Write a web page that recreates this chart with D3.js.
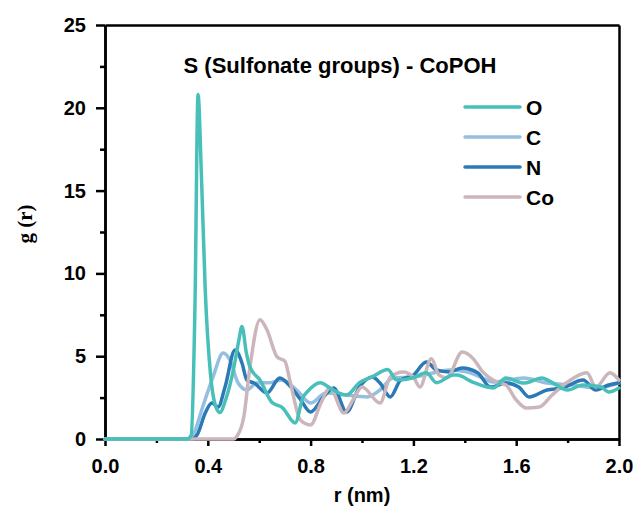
<!DOCTYPE html>
<html>
<head>
<meta charset="utf-8">
<script src="https://cdn.jsdelivr.net/npm/d3@7"></script>
<style>
  body { margin: 0; background: #fff; }
  text { font-family: "Liberation Sans", Arial, sans-serif; font-weight: bold; }
</style>
</head>
<body>
<div id="chart"></div>
<script>
// g(r) values, r in nm
var seriesNames = ['O', 'C', 'N', 'Co']
var seriesColors = ['#48c0b9', '#94bfe0', '#2b79b6', '#cbb7bb']

var oData = [[0, 0], [0.32, 0], [0.335, 0.2], [0.35, 8], [0.362, 20.8], [0.375, 16], [0.39, 9],
  [0.41, 4], [0.43, 2], [0.447, 1.6], [0.47, 2.4], [0.5, 4.2], [0.52, 5.9], [0.533, 6.8],
  [0.55, 5.2], [0.564, 4.35], [0.603, 3.56], [0.65, 2.2], [0.69, 1.9], [0.74, 0.97],
  [0.77, 2.5], [0.79, 2.9], [0.837, 3.4], [0.887, 2.96], [0.94, 2.65], [0.99, 3.4],
  [1.04, 3.75], [1.1, 4.2], [1.135, 3.56], [1.2, 3.7], [1.25, 4.0], [1.29, 3.4],
  [1.355, 3.86], [1.37, 3.86], [1.43, 3.44], [1.51, 3.08], [1.56, 3.68], [1.63, 3.38],
  [1.7, 3.68], [1.73, 3.5], [1.8, 2.96], [1.86, 3.26], [1.93, 3.14], [1.96, 2.84], [2.0, 3.08]]

var cData = [[0, 0], [0.33, 0], [0.345, 0.3], [0.38, 1.93], [0.42, 3.74], [0.46, 5.19],
  [0.486, 4.77], [0.518, 3.38], [0.552, 2.96], [0.59, 3.38], [0.64, 3.4], [0.69, 3.56],
  [0.745, 2.96], [0.8, 2.17], [0.86, 2.78], [0.94, 2.65], [1.02, 2.54], [1.07, 2.96],
  [1.12, 3.68], [1.2, 3.74], [1.28, 4.0], [1.34, 4.17], [1.41, 4.05], [1.47, 3.68],
  [1.51, 3.44], [1.63, 3.68], [1.72, 3.38], [1.82, 3.26], [1.91, 3.08], [2.0, 3.38]]

var nData = [[0, 0], [0.34, 0], [0.36, 0.3], [0.39, 1.57], [0.416, 2.17], [0.44, 1.93],
  [0.467, 3.14], [0.506, 5.37], [0.533, 4.59], [0.552, 3.56], [0.58, 3.38], [0.63, 2.78],
  [0.68, 3.68], [0.72, 3.2], [0.76, 2.4], [0.8, 1.63], [0.85, 2.54], [0.89, 3.08],
  [0.94, 1.63], [0.99, 3.14], [1.04, 3.74], [1.07, 3.38], [1.11, 2.54], [1.15, 3.56],
  [1.2, 3.86], [1.25, 4.65], [1.29, 4.17], [1.34, 4.05], [1.39, 4.29], [1.45, 4.0],
  [1.5, 3.14], [1.56, 3.38], [1.61, 3.14], [1.65, 2.54], [1.72, 2.96], [1.78, 3.08],
  [1.86, 3.56], [1.91, 2.96], [1.96, 3.26], [2.0, 3.4]]

var coData = [[0, 0], [0.5, 0], [0.515, 0.2], [0.54, 1.33], [0.564, 4.35], [0.603, 7.2],
  [0.63, 6.6], [0.67, 4.95], [0.7, 4.7], [0.72, 3.5], [0.76, 1.15], [0.8, 0.85],
  [0.84, 2.17], [0.875, 3.08], [0.93, 1.57], [0.965, 2.36], [1.0, 3.14], [1.07, 2.17],
  [1.11, 3.74], [1.16, 4.05], [1.2, 3.74], [1.225, 3.14], [1.27, 4.85], [1.3, 3.86],
  [1.33, 3.7], [1.39, 5.25], [1.43, 4.89], [1.47, 4.05], [1.525, 3.44], [1.56, 3.26],
  [1.6, 2.36], [1.64, 1.87], [1.69, 1.93], [1.74, 2.66], [1.8, 3.44], [1.875, 4.0],
  [1.91, 3.14], [1.965, 4.0], [2.0, 3.56]]

var xTicks = [0, 0.4, 0.8, 1.2, 1.6, 2.0]
var xMinor = [0.2, 0.6, 1.0, 1.4, 1.8]
var yTicks = [0, 5, 10, 15, 20, 25]
var yMinor = [2.5, 7.5, 12.5, 17.5, 22.5]

var titleText = 'S (Sulfonate groups) - CoPOH'
var xTitle = 'r (nm)'
var yTitle = 'g (r)'

var width = 641
var height = 511
var margin = { top: 25, left: 105, bottom: 72, right: 22 }
var chartWidth = width - margin.left - margin.right
var chartHeight = height - margin.top - margin.bottom

var svg = d3.select('#chart').append('svg')
  .attr('width', width)
  .attr('height', height)

var g = svg.append('g')
  .attr('transform', 'translate(' + margin.left + ',' + margin.top + ')')

var x = d3.scaleLinear().domain([0, 2]).range([0, chartWidth])
var y = d3.scaleLinear().domain([0, 25]).range([chartHeight, 0])

var lineGen = d3.line()
  .x(function (d) { return x(d[0]) })
  .y(function (d) { return y(d[1]) })
  .curve(d3.curveMonotoneX)

var allData = [oData, cData, nData, coData]
var drawOrder = [1, 2, 3, 0]

// minor ticks first, so the major axes sit on top
var minorX = g.append('g')
  .attr('transform', 'translate(0,' + chartHeight + ')')
  .call(d3.axisBottom(x).tickValues(xMinor).tickFormat(function () { return '' }).tickSizeInner(4).tickSizeOuter(0))
var minorY = g.append('g')
  .call(d3.axisLeft(y).tickValues(yMinor).tickFormat(function () { return '' }).tickSizeInner(5).tickSizeOuter(0))

var gX = g.append('g')
  .attr('transform', 'translate(0,' + chartHeight + ')')
  .call(d3.axisBottom(x).tickValues(xTicks).tickFormat(d3.format('.1f'))
    .tickSizeInner(7).tickSizeOuter(0).tickPadding(13))

var gY = g.append('g')
  .call(d3.axisLeft(y).tickValues(yTicks).tickSizeInner(9).tickSizeOuter(0).tickPadding(10))

g.append('g')
  .call(d3.axisTop(x).tickValues([]).tickSizeOuter(0))

g.append('g')
  .attr('transform', 'translate(' + chartWidth + ',0)')
  .call(d3.axisRight(y).tickValues([]).tickSizeOuter(0))

svg.selectAll('.domain').attr('stroke', '#000').attr('stroke-width', 2.5)
svg.selectAll('.tick line').attr('stroke', '#000').attr('stroke-width', 2.5)
svg.selectAll('.tick text')
  .attr('fill', '#000')
  .style('font-size', '20px')

g.selectAll('path.series')
    .data(drawOrder)
  .enter().append('path')
    .attr('class', 'series')
    .attr('d', function (i) { return lineGen(allData[i]) })
    .attr('fill', 'none')
    .attr('stroke', function (i) { return seriesColors[i] })
    .attr('stroke-width', 3.5)
    .attr('stroke-linejoin', 'round')
    .attr('stroke-linecap', 'round')

// title
g.append('text')
  .attr('x', 340 - margin.left)
  .attr('y', 73 - margin.top)
  .attr('text-anchor', 'middle')
  .style('font-size', '22px')
  .text(titleText)

// legend
var legend = g.selectAll('g.legend')
    .data(seriesNames)
  .enter().append('g')
    .attr('class', 'legend')
    .attr('transform', function (d, i) { return 'translate(' + (465 - margin.left) + ',' + (107 - margin.top + i * 30) + ')' })

legend.append('line')
  .attr('x1', 0).attr('x2', 55)
  .attr('stroke', function (d, i) { return seriesColors[i] })
  .attr('stroke-width', 3.5)
  .attr('stroke-linecap', 'round')

legend.append('text')
  .attr('x', 61)
  .attr('dy', '0.36em')
  .style('font-size', '21px')
  .text(function (d) { return d })

// axis titles
svg.append('text')
  .attr('x', margin.left + chartWidth / 2)
  .attr('y', 502)
  .attr('text-anchor', 'middle')
  .style('font-size', '20px')
  .text(xTitle)

svg.append('text')
  .attr('transform', 'translate(32,224) rotate(-90)')
  .attr('text-anchor', 'middle')
  .style('font-family', '"Liberation Serif", "Times New Roman", serif')
  .style('font-size', '21px')
  .text(yTitle)
</script>
</body>
</html>
